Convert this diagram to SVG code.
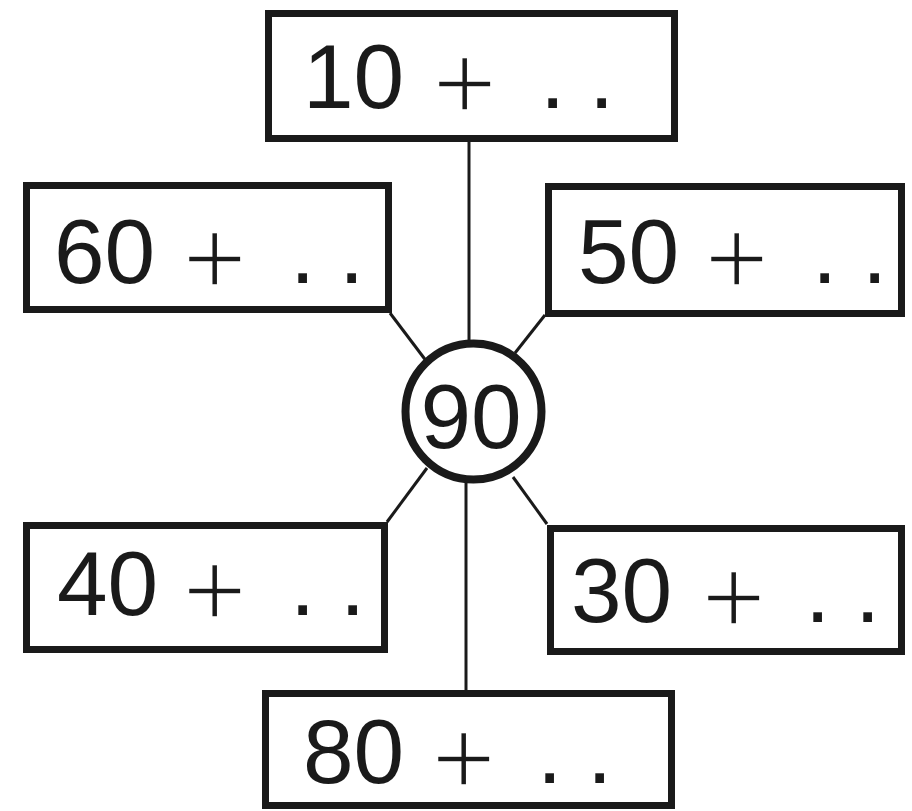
<svg xmlns="http://www.w3.org/2000/svg" width="912" height="811" viewBox="0 0 912 811">
<style>
.box{fill:#fff;stroke:#1a1a1a;stroke-width:7}
.hub{fill:#fff;stroke:#1a1a1a;stroke-width:8}
.conn line{stroke:#1a1a1a;stroke-width:3}
.t{font-family:"Liberation Sans",Arial,sans-serif;font-size:91px;fill:#1a1a1a}
.p{font-size:112px;stroke:#fff;stroke-width:3.5}
</style>
<rect width="912" height="811" fill="#fff"/>
<g id="connectors" class="conn">
<line x1="469" y1="142" x2="469" y2="343"/>
<line x1="466" y1="480" x2="466" y2="690"/>
<line x1="390" y1="313" x2="427" y2="362"/>
<line x1="545" y1="315" x2="515" y2="353"/>
<line x1="387" y1="522" x2="427" y2="468"/>
<line x1="547" y1="524" x2="513" y2="477"/>
</g>
<g id="n10">
<rect class="box" x="268.5" y="13.5" width="406" height="125"/>
<text class="t"><tspan x="303" y="108">10 </tspan><tspan class="p" x="432" y="121">+ </tspan><tspan x="540" y="108">. </tspan><tspan x="589" y="108">.</tspan></text>
</g>
<g id="n60">
<rect class="box" x="26.5" y="185.5" width="362" height="124"/>
<text class="t"><tspan x="54" y="283">60 </tspan><tspan class="p" x="182" y="296">+ </tspan><tspan x="290" y="283">. </tspan><tspan x="339" y="283">.</tspan></text>
</g>
<g id="n50">
<rect class="box" x="548.5" y="186.5" width="353" height="127"/>
<text class="t"><tspan x="578" y="283">50 </tspan><tspan class="p" x="704" y="296">+ </tspan><tspan x="812" y="283">. </tspan><tspan x="862" y="283">.</tspan></text>
</g>
<g id="n90">
<circle class="hub" cx="473.5" cy="411.5" r="68"/>
<text class="t" x="471" y="448" text-anchor="middle">90</text>
</g>
<g id="n40">
<rect class="box" x="26.5" y="525.5" width="358" height="124"/>
<text class="t"><tspan x="57" y="615">40 </tspan><tspan class="p" x="182" y="628">+ </tspan><tspan x="290" y="615">. </tspan><tspan x="340" y="615">.</tspan></text>
</g>
<g id="n30">
<rect class="box" x="550.5" y="528.5" width="351" height="123"/>
<text class="t"><tspan x="571" y="622">30 </tspan><tspan class="p" x="701" y="635">+ </tspan><tspan x="805" y="622">. </tspan><tspan x="855" y="622">.</tspan></text>
</g>
<g id="n80">
<rect class="box" x="265.5" y="693.5" width="406" height="112"/>
<text class="t"><tspan x="303" y="783">80 </tspan><tspan class="p" x="431" y="796">+ </tspan><tspan x="537" y="783">. </tspan><tspan x="587" y="783">.</tspan></text>
</g>
</svg>
